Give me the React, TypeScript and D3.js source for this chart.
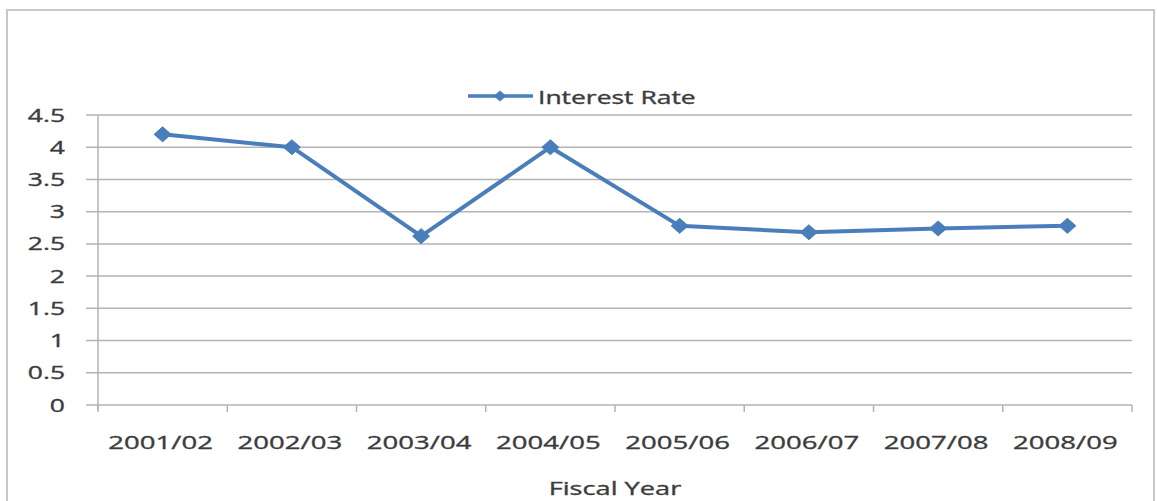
import React from "react";
import * as d3 from "d3";

const categories = ["2001/02", "2002/03", "2003/04", "2004/05", "2005/06", "2006/07", "2007/08", "2008/09"];
const interestRate = [4.2, 4.0, 2.62, 4.0, 2.78, 2.68, 2.74, 2.78];
const yTicks = [0, 0.5, 1, 1.5, 2, 2.5, 3, 3.5, 4, 4.5];
const seriesName = "Interest Rate";
const xTitle = "Fiscal Year";

const W = 1157;
const H = 501;
const left = 98;
const right = 1132;
const top = 115;
const bottom = 405;
const SX = 1.47;
const FONT = "'Open Sans', sans-serif";
const TEXT = "#3c3c3c";
const GRID = "#b3b3b3";
const BLUE = "#4a7ebb";

export default function App() {
  const x = d3.scaleBand<string>().domain(categories).range([left, right]);
  const y = d3.scaleLinear().domain([0, 4.5]).range([bottom, top]);
  const cx = (c: string) => (x(c) as number) + x.bandwidth() / 2;
  const line = d3
    .line<number>()
    .x((_, i) => cx(categories[i]))
    .y((d) => y(d));
  const diamond = (px: number, py: number, w: number, h: number) =>
    `M${px - w / 2},${py}L${px},${py - h / 2}L${px + w / 2},${py}L${px},${py + h / 2}Z`;
  const boundaries = categories.map((c) => x(c) as number).concat([right]);
  const textStyle = { stroke: TEXT, strokeWidth: 0.35 };

  return (
    <svg
      width={W}
      height={H}
      style={{ position: "absolute", left: 0, top: 0, background: "#fff" }}
      fontFamily={FONT}
    >
      <rect x={7} y={10} width={1147} height={H + 20} fill="#fff" stroke="#c8c8c8" strokeWidth={2} />
      {yTicks.map((t) => (
        <line key={"g" + t} x1={86} x2={right} y1={y(t)} y2={y(t)} stroke={GRID} strokeWidth={1.5} />
      ))}
      <line x1={left} x2={left} y1={top} y2={bottom + 5} stroke={GRID} strokeWidth={1.5} />
      {boundaries.map((b, i) => (
        <line key={"t" + i} x1={b} x2={b} y1={bottom} y2={bottom + 7} stroke={GRID} strokeWidth={1.5} />
      ))}
      {yTicks.map((t) => (
        <text
          key={"yl" + t}
          transform={`translate(65,${y(t) + 6.5}) scale(${SX},1)`}
          textAnchor="end"
          fontSize={18}
          fill={TEXT}
          style={textStyle}
        >
          {String(t)}
        </text>
      ))}
      {categories.map((c) => (
        <text
          key={"xl" + c}
          transform={`translate(${cx(c) - 2},449) scale(1.45,1)`}
          textAnchor="middle"
          fontSize={19}
          fill={TEXT}
          style={textStyle}
        >
          {c}
        </text>
      ))}
      <text
        transform={`translate(${(left + right) / 2},495) scale(${SX},1)`}
        textAnchor="middle"
        fontSize={18.5}
        fill={TEXT}
        style={textStyle}
      >
        {xTitle}
      </text>
      <path d={line(interestRate) || ""} fill="none" stroke={BLUE} strokeWidth={4} strokeLinejoin="round" />
      {interestRate.map((v, i) => (
        <path key={"m" + i} d={diamond(cx(categories[i]), y(v), 17, 15)} fill={BLUE} stroke={BLUE} strokeWidth={1} />
      ))}
      <line x1={468} x2={533} y1={96} y2={96} stroke={BLUE} strokeWidth={3.5} />
      <path d={diamond(500, 96, 13, 11)} fill={BLUE} />
      <text transform={`translate(538,104) scale(${SX},1)`} fontSize={18} fill={TEXT} style={textStyle}>
        {seriesName}
      </text>
    </svg>
  );
}
